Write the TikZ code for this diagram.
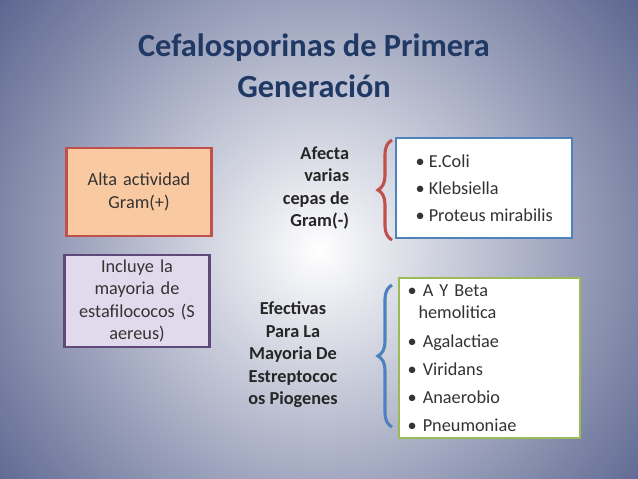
\documentclass[tikz,border=0pt]{standalone}
\usepackage{fontspec}
\setmainfont{Carlito}
\usetikzlibrary{decorations.pathreplacing,positioning}
\definecolor{titleblue}{HTML}{1F3864}
\definecolor{boxorange}{HTML}{F9C9A1}
\definecolor{boxred}{HTML}{C0504D}
\definecolor{boxlilac}{HTML}{E1DAEC}
\definecolor{boxpurple}{HTML}{5F497A}
\definecolor{boxblue}{HTML}{4F81BD}
\definecolor{boxgreen}{HTML}{9BBB59}
\definecolor{edgeblue}{HTML}{1E2C66}
\begin{document}
\begin{tikzpicture}[x=0.025cm,y=-0.025cm,
  sidebox/.style={draw,line width=1.6pt,align=center,font=\fontsize{13}{16}\selectfont,
    inner sep=1pt,text=black!80},
  listbox/.style={draw,line width=1.6pt,fill=white,align=left,font=\fontsize{13}{19}\selectfont,
    text=black!80,anchor=north west,inner xsep=6pt},
  sidelabel/.style={font=\bfseries\fontsize{13}{16}\selectfont,text=black!85},
  bracket/.style={decorate,decoration={brace,amplitude=10pt},line width=2.2pt}]
  \useasboundingbox (0,0) rectangle (638,479);
  \begin{scope}
    \clip (0,0) rectangle (638,479);
    \shade[inner color=white,outer color=edgeblue] (319,250) circle (560);
  \end{scope}
  % title
  \node[font=\bfseries\fontsize{23}{29}\selectfont,text=titleblue,align=center] (title) at (314,66)
    {Cefalosporinas de Primera\\Generación};
  % left boxes
  \node[sidebox,fill=boxorange,draw=boxred,text width=3.55cm,minimum height=2.2cm]
    (alta) at (139,192) {Alta actividad\\Gram(+)};
  \node[sidebox,fill=boxlilac,draw=boxpurple,text width=3.55cm,minimum height=2.3cm]
    (incluye) at (137,301) {Incluye la\\mayoria de\\estafilococos (S\\aereus)};
  % upper group
  \node[sidelabel,align=right,anchor=east] (afecta) at (354,188) {Afecta\\varias\\cepas de\\Gram(-)};
  \node[listbox,draw=boxblue,minimum width=4.4cm,minimum height=2.5cm] (gramneg) at (395,137)
    {• E.Coli\\• Klebsiella\\• Proteus mirabilis};
  \draw[bracket,boxred] (392,240) -- (392,140);
  % lower group
  \node[sidelabel,align=center] (efectivas) at (293,355)
    {Efectivas\\Para La\\Mayoria De\\Estreptococ\\os Piogenes};
  \node[listbox,draw=boxgreen,text width=4.1cm,minimum height=4cm,inner ysep=4pt,
    font=\fontsize{13}{16}\selectfont] (estrepto) at (398,277)
    {• A Y Beta\\\hspace*{0.6em}hemolitica\\[4pt]• Agalactiae\\[4pt]• Viridans\\[4pt]• Anaerobio\\[4pt]• Pneumoniae};
  \draw[bracket,boxblue] (392,427) -- (392,285);
\end{tikzpicture}
\end{document}
